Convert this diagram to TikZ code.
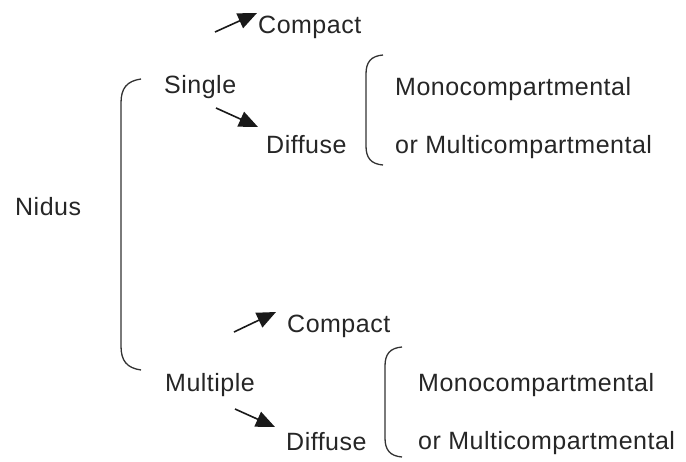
\documentclass[tikz,border=0pt]{standalone}
\usepackage{fontspec}
\setmainfont{Liberation Sans}
\usetikzlibrary{arrows.meta,calc}
\begin{document}
\begin{tikzpicture}[x=1pt,y=-1pt,
  lbl/.style={anchor=base west,inner sep=0pt,font=\addfontfeatures{LetterSpace=2}\fontsize{25}{30}\selectfont,text=black!85},
  arr/.style={line width=1.6pt,black!90,-{Triangle[length=19pt,width=16pt]}},
  brk/.style={line width=1.3pt,black!80}]
\useasboundingbox[fill=white] (0,0) rectangle (686,461);
% texts
\node[lbl] (compactA) at (258,33) {Compact};
\node[lbl] (single) at (164,93) {Single};
\node[lbl] (diffuseA) at (266,153) {Diffuse};
\node[lbl] (monoA) at (395,95) {Monocompartmental};
\node[lbl] (multiA) at (395,153) {or Multicompartmental};
\node[lbl] (nidus) at (15,215) {Nidus};
\node[lbl] (compactB) at (287,332) {Compact};
\node[lbl] (multiple) at (165,391) {Multiple};
\node[lbl] (diffuseB) at (286,450) {Diffuse};
\node[lbl] (monoB) at (418,391) {Monocompartmental};
\node[lbl] (multiB) at (418,449) {or Multicompartmental};
% arrows
\draw[arr] ($(compactA.base west)+(-43,-1)$) -- ($(compactA.base west)+(-1,-20)$);
\draw[arr] ($(single.base west)+(52,15)$) -- ($(diffuseA.base west)+(-8,-26)$);
\draw[arr] ($(compactB.base west)+(-53,0)$) -- ($(compactB.base west)+(-11,-20)$);
\draw[arr] ($(multiple.base west)+(70,18)$) -- ($(diffuseB.base west)+(-11,-23)$);
% brackets
\draw[brk] (141,79) .. controls (127,81) and (121,88) .. (121,103) -- (121,346) .. controls (121,361) and (127,368) .. (141,370);
\draw[brk] (383,55) .. controls (371,56) and (366,62) .. (366,74) -- (366,146) .. controls (366,158) and (371,164) .. (383,165);
\draw[brk] (402,347) .. controls (390,348) and (385,354) .. (385,366) -- (385,438) .. controls (385,450) and (390,456) .. (402,457);
\end{tikzpicture}
\end{document}
